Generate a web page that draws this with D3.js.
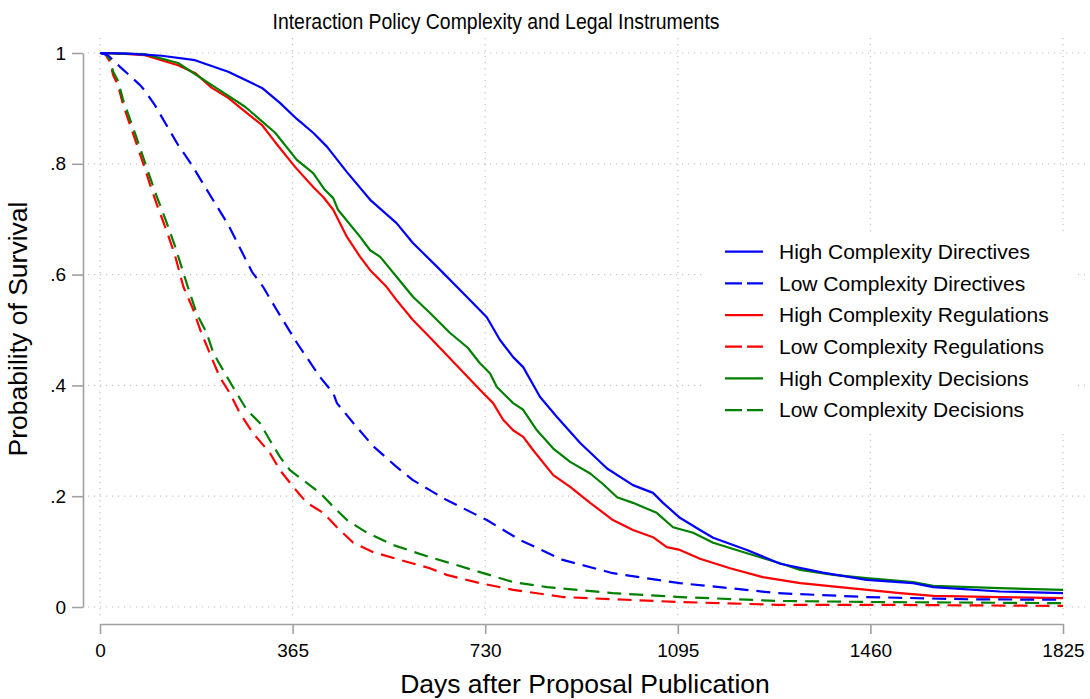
<!DOCTYPE html>
<html>
<head>
<meta charset="utf-8">
<script src="https://cdn.jsdelivr.net/npm/d3@7"></script>
<style>
  html, body { margin: 0; padding: 0; background: #fff; }
  svg { display: block; font-family: "Liberation Sans", Arial, Helvetica, sans-serif; }
</style>
</head>
<body>
<svg id="chart" width="1090" height="699"></svg>
<script>
// Kaplan-Meier survival estimates by complexity and legal instrument
const hcdDays = [0, 53, 117, 180, 243, 307, 341, 373, 404, 430, 468, 512, 562, 593, 639, 695, 733, 758, 783, 802, 834, 866, 910, 961, 1010, 1048, 1067, 1099, 1137, 1162, 1226, 1289, 1370, 1453, 1541, 1579, 1705, 1825];
const hcdSurv = [1, 0.999, 0.995, 0.987, 0.966, 0.937, 0.910, 0.881, 0.856, 0.831, 0.785, 0.735, 0.693, 0.657, 0.614, 0.560, 0.523, 0.482, 0.451, 0.433, 0.379, 0.343, 0.296, 0.250, 0.220, 0.206, 0.188, 0.161, 0.139, 0.125, 0.103, 0.078, 0.062, 0.049, 0.043, 0.036, 0.028, 0.025];

const lcdDays = [0, 15, 38, 53, 76, 85, 104, 129, 148, 174, 205, 243, 288, 309, 335, 373, 417, 442, 449, 480, 518, 562, 593, 625, 657, 733, 796, 877, 972, 1099, 1194, 1283, 1453, 1643, 1825];
const lcdSurv = [1, 0.996, 0.975, 0.962, 0.942, 0.932, 0.906, 0.865, 0.834, 0.798, 0.749, 0.690, 0.605, 0.578, 0.536, 0.477, 0.415, 0.386, 0.368, 0.332, 0.290, 0.253, 0.229, 0.211, 0.193, 0.157, 0.121, 0.085, 0.061, 0.043, 0.034, 0.025, 0.018, 0.014, 0.013];

const hcrDays = [0, 40, 85, 148, 180, 212, 243, 275, 307, 332, 370, 404, 423, 442, 468, 493, 512, 543, 562, 593, 625, 644, 720, 745, 764, 783, 802, 821, 859, 891, 929, 972, 1010, 1048, 1074, 1099, 1137, 1194, 1256, 1327, 1421, 1516, 1579, 1705, 1825];
const hcrSurv = [1, 0.999, 0.996, 0.978, 0.964, 0.937, 0.919, 0.894, 0.870, 0.839, 0.794, 0.758, 0.740, 0.717, 0.668, 0.632, 0.608, 0.578, 0.554, 0.518, 0.487, 0.468, 0.392, 0.368, 0.338, 0.319, 0.307, 0.283, 0.238, 0.217, 0.188, 0.157, 0.139, 0.126, 0.108, 0.103, 0.087, 0.070, 0.054, 0.043, 0.034, 0.025, 0.020, 0.018, 0.016];

const lcrDays = [0, 10, 19, 25, 34, 44, 57, 70, 85, 95, 108, 127, 142, 158, 177, 190, 208, 227, 246, 265, 290, 322, 341, 366, 392, 423, 449, 480, 518, 569, 625, 657, 720, 783, 877, 972, 1099, 1283, 1460, 1825];
const lcrSurv = [1, 0.998, 0.984, 0.960, 0.942, 0.906, 0.870, 0.834, 0.792, 0.762, 0.726, 0.677, 0.635, 0.578, 0.536, 0.500, 0.458, 0.415, 0.386, 0.350, 0.314, 0.278, 0.247, 0.217, 0.188, 0.170, 0.144, 0.116, 0.099, 0.085, 0.070, 0.058, 0.043, 0.031, 0.018, 0.014, 0.009, 0.004, 0.004, 0.002];

const hcdecDays = [0, 40, 85, 148, 212, 275, 332, 373, 404, 426, 442, 451, 493, 512, 531, 562, 593, 625, 663, 697, 720, 739, 752, 783, 802, 828, 859, 891, 929, 953, 980, 1010, 1055, 1086, 1124, 1162, 1226, 1289, 1327, 1390, 1453, 1541, 1579, 1705, 1825];
const hcdecSurv = [1, 0.999, 0.998, 0.982, 0.942, 0.903, 0.856, 0.807, 0.783, 0.753, 0.738, 0.717, 0.668, 0.644, 0.632, 0.596, 0.560, 0.531, 0.495, 0.468, 0.440, 0.422, 0.397, 0.368, 0.356, 0.319, 0.286, 0.262, 0.241, 0.222, 0.198, 0.188, 0.170, 0.144, 0.134, 0.116, 0.097, 0.079, 0.067, 0.058, 0.052, 0.045, 0.038, 0.034, 0.031];

const lcdecDays = [0, 10, 19, 25, 34, 44, 57, 70, 85, 95, 108, 127, 142, 164, 183, 202, 215, 233, 252, 278, 303, 322, 341, 360, 385, 417, 442, 468, 506, 555, 593, 625, 657, 720, 783, 847, 972, 1099, 1283, 1460, 1825];
const lcdecSurv = [1, 0.999, 0.988, 0.966, 0.950, 0.915, 0.880, 0.845, 0.803, 0.775, 0.740, 0.692, 0.652, 0.585, 0.530, 0.495, 0.458, 0.428, 0.397, 0.356, 0.332, 0.301, 0.271, 0.247, 0.229, 0.206, 0.181, 0.157, 0.134, 0.112, 0.100, 0.090, 0.081, 0.063, 0.045, 0.036, 0.025, 0.018, 0.011, 0.009, 0.007];

const seriesNames = [
  "High Complexity Directives", "Low Complexity Directives",
  "High Complexity Regulations", "Low Complexity Regulations",
  "High Complexity Decisions", "Low Complexity Decisions"
];
const seriesColors = ["#0000ff", "#0000ff", "#ff0000", "#ff0000", "#008000", "#008000"];
const seriesDashed = [false, true, false, true, false, true];

const xTicks = [0, 365, 730, 1095, 1460, 1825];
const yTicks = [0, 0.2, 0.4, 0.6, 0.8, 1];
const yTickLabels = ["0", ".2", ".4", ".6", ".8", "1"];

const titleText = "Interaction Policy Complexity and Legal Instruments";
const xTitle = "Days after Proposal Publication";
const yTitle = "Probability of Survival";

// draw order: regulations, decisions, directives on top
const series = [
  { days: hcrDays, surv: hcrSurv, i: 2 },
  { days: lcrDays, surv: lcrSurv, i: 3 },
  { days: hcdecDays, surv: hcdecSurv, i: 4 },
  { days: lcdecDays, surv: lcdecSurv, i: 5 },
  { days: hcdDays, surv: hcdSurv, i: 0 },
  { days: lcdDays, surv: lcdSurv, i: 1 }
];

const svg = d3.select("#chart");
const x = d3.scaleLinear().domain([0, 1825]).range([100, 1063]);
const y = d3.scaleLinear().domain([0, 1]).range([607, 53]);

const gridColor = "#c4c4c4";
const axisColor = "#a0a0a0";

// dotted grid
const grid = svg.append("g");
grid.selectAll("line.h").data(yTicks).join("line")
  .attr("x1", 88).attr("x2", 1085)
  .attr("y1", d => y(d)).attr("y2", d => y(d))
  .attr("stroke", gridColor).attr("stroke-width", 1.2)
  .attr("stroke-dasharray", "1.2,4.8");
grid.selectAll("line.v").data(xTicks).join("line")
  .attr("x1", d => x(d)).attr("x2", d => x(d))
  .attr("y1", 38).attr("y2", 620)
  .attr("stroke", gridColor).attr("stroke-width", 1.2)
  .attr("stroke-dasharray", "1.2,4.8");

// legend background covers the grid
svg.append("rect").attr("x", 706).attr("y", 232).attr("width", 371).attr("height", 198).attr("fill", "#fff");

// survival curves
const line = d3.line().x(d => x(d[0])).y(d => y(d[1]));
const curves = svg.append("g").attr("fill", "none");
series.forEach(s => {
  const pts = s.days.map((d, k) => [d, s.surv[k]]);
  curves.append("path")
    .attr("d", line(pts))
    .attr("stroke", seriesColors[s.i])
    .attr("stroke-width", 2.2)
    .attr("stroke-linejoin", "round")
    .attr("stroke-dasharray", seriesDashed[s.i] ? "14,8" : null);
});

// axes
const yAxis = d3.axisLeft(y).tickValues(yTicks)
  .tickFormat((d, k) => yTickLabels[k]).tickSize(11).tickSizeOuter(0).tickPadding(6);
const gy = svg.append("g").attr("transform", "translate(83,0)").call(yAxis);
const xAxis = d3.axisBottom(x).tickValues(xTicks).tickFormat(d3.format("d"))
  .tickSize(10).tickSizeOuter(0).tickPadding(9.5);
const gx = svg.append("g").attr("transform", "translate(0,624)").call(xAxis);
[gx, gy].forEach(g => {
  g.select(".domain").attr("stroke", axisColor).attr("stroke-width", 1.6);
  g.selectAll(".tick line").attr("stroke", axisColor).attr("stroke-width", 1.6);
  g.selectAll(".tick text").attr("fill", "#000").attr("font-size", 19)
    .attr("font-family", "'Liberation Sans', Arial, Helvetica, sans-serif");
});

// titles
svg.append("text").attr("x", 496).attr("y", 29).attr("text-anchor", "middle")
  .attr("font-size", 22).attr("textLength", 447).attr("lengthAdjust", "spacingAndGlyphs")
  .text(titleText);
svg.append("text").attr("x", 585).attr("y", 693).attr("text-anchor", "middle")
  .attr("font-size", 26.5).text(xTitle);
svg.append("text").attr("transform", "translate(27,329) rotate(-90)").attr("text-anchor", "middle")
  .attr("font-size", 26.5).text(yTitle);

// legend
const legend = svg.append("g");
const rows = legend.selectAll("g").data(seriesNames).join("g")
  .attr("transform", (d, k) => `translate(0,${251.7 + k * 31.67})`);
rows.append("line").attr("x1", 725).attr("x2", 763)
  .attr("stroke", (d, k) => seriesColors[k]).attr("stroke-width", 2.3)
  .attr("stroke-dasharray", (d, k) => seriesDashed[k] ? "17,5" : null);
rows.append("text").attr("x", 779).attr("dy", "0.35em").attr("font-size", 21).text(d => d);
</script>
</body>
</html>
